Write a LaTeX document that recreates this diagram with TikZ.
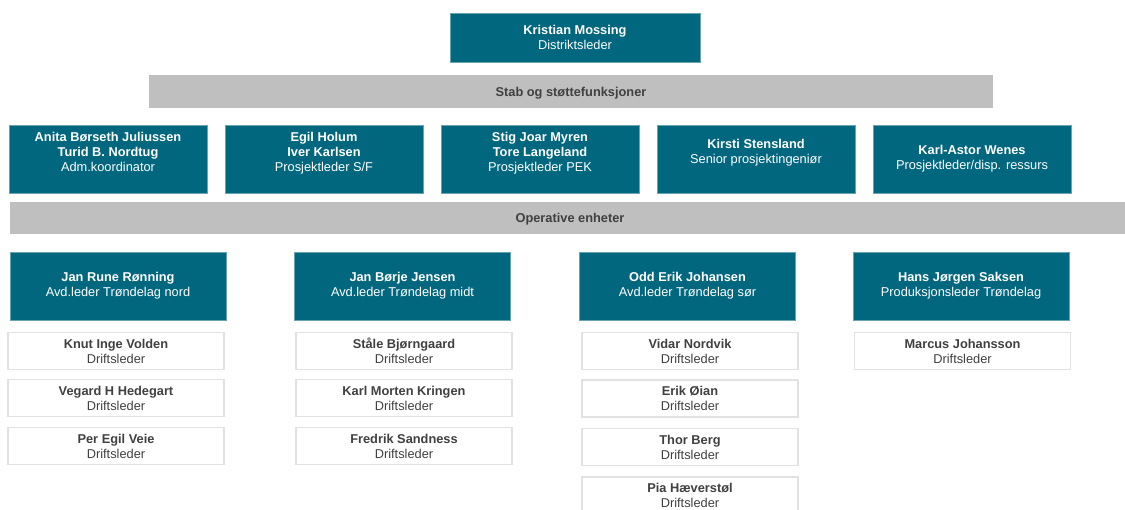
\documentclass[tikz,border=0pt]{standalone}
\usepackage{fontspec}
\setmainfont{Liberation Sans}
\definecolor{petrol}{RGB}{0,103,127}
\definecolor{bargray}{RGB}{191,191,191}
\definecolor{darktext}{RGB}{64,64,64}
\definecolor{framegray}{RGB}{226,226,226}

\begin{document}
\begin{tikzpicture}[
    x=1pt, y=-1pt,
    every node/.style={
        font=\fontsize{12.8}{15}\selectfont,
        align=center,
        inner sep=0pt
    },
    lead/.style={
        rectangle,
        fill=petrol,
        draw=petrol!60!white,
        line width=0.6pt,
        text=white,
        minimum width=198pt,
        minimum height=68pt
    },
    unit/.style={lead, minimum width=216pt},
    bar/.style={
        rectangle,
        fill=bargray,
        text=darktext,
        font=\fontsize{12.8}{15}\selectfont\bfseries,
        text depth=0pt,
        minimum height=33pt
    },
    crew/.style={
        rectangle,
        fill=white,
        draw=framegray,
        line width=1.1pt,
        text=darktext,
        minimum width=216pt,
        minimum height=37pt
    }
]
\useasboundingbox (0,0) rectangle (1125,509);

% top
\node[lead, minimum width=250pt, minimum height=49pt] (chief) at (575,37.5) {
\textbf{Kristian Mossing}\\
Distriktsleder
};

\node[bar, minimum width=844pt] (staff) at (571,91.5) {Stab og støttefunksjoner};

% staff functions
\node[lead] (anita) at (108,159) {
\textbf{Anita Børseth Juliussen}\\
\textbf{Turid B. Nordtug}\\
Adm.koordinator\\~
};
\node[lead] (egil) at (324,159) {
\textbf{Egil Holum}\\
\textbf{Iver Karlsen}\\
Prosjektleder S/F\\~
};
\node[lead] (stig) at (540,159) {
\textbf{Stig Joar Myren}\\
\textbf{Tore Langeland}\\
Prosjektleder PEK\\~
};
\node[lead] (kirsti) at (756,159) {
\textbf{Kirsti Stensland}\\
Senior prosjektingeniør\\~
};
\node[lead] (karl) at (972,159) {
\textbf{Karl-Astor Wenes}\\
Prosjektleder/disp. ressurs
};

\node[bar, minimum width=1120pt, minimum height=32pt] (ops) at (570,218) {Operative enheter};

% operative units
\node[unit] (nord) at (118,286) {
\textbf{Jan Rune Rønning}\\
Avd.leder Trøndelag nord
};
\node[unit] (midt) at (402.5,286) {
\textbf{Jan Børje Jensen}\\
Avd.leder Trøndelag midt
};
\node[unit] (sor) at (687.5,286) {
\textbf{Odd Erik Johansen}\\
Avd.leder Trøndelag sør
};
\node[unit] (prod) at (961,286) {
\textbf{Hans Jørgen Saksen}\\
Produksjonsleder Trøndelag
};

% driftsledere
\node[crew] (knut) at (116,351) {\textbf{Knut Inge Volden}\\Driftsleder};
\node[crew] (vegard) at (116,398) {\textbf{Vegard H Hedegart}\\Driftsleder};
\node[crew] (per) at (116,446) {\textbf{Per Egil Veie}\\Driftsleder};

\node[crew] (staale) at (404,351) {\textbf{Ståle Bjørngaard}\\Driftsleder};
\node[crew] (morten) at (404,398) {\textbf{Karl Morten Kringen}\\Driftsleder};
\node[crew] (fredrik) at (404,446) {\textbf{Fredrik Sandness}\\Driftsleder};

\node[crew] (vidar) at (690,351) {\textbf{Vidar Nordvik}\\Driftsleder};
\node[crew] (erik) at (690,398.5) {\textbf{Erik Øian}\\Driftsleder};
\node[crew] (thor) at (690,447) {\textbf{Thor Berg}\\Driftsleder};
\node[crew] (pia) at (690,495.5) {\textbf{Pia Hæverstøl}\\Driftsleder};

\node[crew] (marcus) at (962.5,351) {\textbf{Marcus Johansson}\\Driftsleder};

\end{tikzpicture}
\end{document}
